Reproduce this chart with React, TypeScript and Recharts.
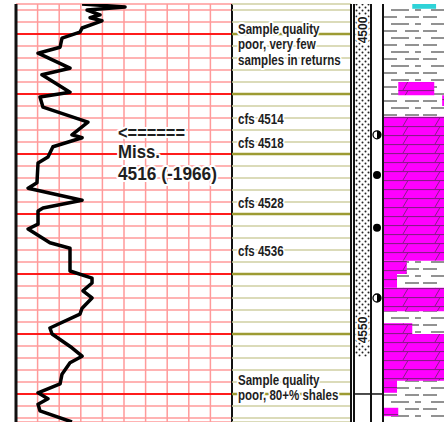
import React from 'react';
import {
  ComposedChart, Line, Scatter, XAxis, YAxis, CartesianGrid, ReferenceLine, ReferenceArea,
} from 'recharts';

const DEPTH_TOP = 4495;
const DEPTH_BASE = 4564.67;

// gamma ray trace (depth ft, API units on a 0-100 scale)
const grDepth = [
  4495.0, 4495.5, 4496.0, 4496.8, 4497.3, 4497.8, 4499.0, 4499.7, 4500.7, 4502.2,
  4503.2, 4505.7, 4506.8, 4509.7, 4510.5, 4512.2, 4514.7, 4516.8, 4517.3, 4518.8,
  4520.5, 4521.5, 4524.8, 4525.7, 4527.7, 4529.0, 4529.5, 4531.7, 4532.5, 4534.8,
  4535.7, 4539.5, 4540.7, 4541.5, 4542.8, 4544.0, 4545.7, 4546.7, 4549.0, 4550.0,
  4552.3, 4553.7, 4554.8, 4556.7, 4558.3, 4559.8, 4560.8, 4561.7, 4562.8, 4564.67,
];
const grValue = [
  30.6, 50.5, 32.9, 38.9, 34.3, 39.8, 30.6, 29.6, 21.3, 20.4,
  10.2, 25.0, 12.0, 25.0, 11.1, 12.5, 33.3, 25.9, 30.6, 17.1,
  14.8, 10.2, 9.7, 5.6, 30.6, 12.5, 10.2, 10.2, 5.6, 15.7,
  25.0, 25.0, 35.2, 35.2, 31.0, 35.2, 30.6, 29.6, 15.7, 16.7,
  25.9, 30.6, 25.0, 21.3, 20.4, 10.2, 14.8, 10.2, 11.1, 25.9,
];

const grTicks = [0, 10, 20, 30, 40, 50, 60, 70, 80, 90, 100];
const gridDepths = Array.from({ length: 35 }, (_, i) => 4496 + i * 2);
const majorDepths = [4500, 4510, 4520, 4530, 4540, 4550, 4560];
const depthLabels = [4500, 4550];

const missDepth = 4516;
const missLines = ['<======', 'Miss.', '4516 (-1966)'];

// remarks column
const noteDepths = [4499, 4514, 4518, 4528, 4536, 4557.5];
const noteTexts = [
  ['Sample quality', 'poor, very few', 'samples in returns'],
  ['cfs 4514'],
  ['cfs 4518'],
  ['cfs 4528'],
  ['cfs 4536'],
  ['Sample quality', 'poor, 80+% shales'],
];

// porosity / sand column
const sandTop = 4495;
const sandBase = 4553.8;
const depthMarker = 4560;

// shows
const showDepths = [4516.8, 4523.5, 4532.3, 4544];
const showKinds = ['half', 'full', 'full', 'half'];

// lithology: percent of track, shale is the background
const limeTop = [4508, 4510.2, 4513.8, 4537.8, 4540, 4542.3, 4548.2, 4550, 4557.8, 4562.3];
const limeBase = [4510.2, 4512, 4537.8, 4540, 4542.3, 4546.2, 4550, 4557.8, 4559.8, 4563.7];
const limeFrom = [25, 97, 0, 0, 0, 0, 0, 0, 0, 0];
const limeTo = [84, 100, 100, 39, 23, 100, 48, 100, 23, 25];
const anhyTop = 4495.0;
const anhyBase = 4495.8;
const anhyFrom = 48;
const anhyTo = 87;

const grData = grDepth.map((d, i) => ({ depth: d, gr: grValue[i] }));
const showData = showDepths.map((d, i) => ({ depth: d, gr: 50, kind: showKinds[i] }));

const H = 422;
const TOP = 4;
const halo = { stroke: '#fff', strokeWidth: 4, paintOrder: 'stroke' as const, strokeLinejoin: 'round' as const };

const depthAxis = (
  <YAxis type="number" dataKey="depth" domain={[DEPTH_TOP, DEPTH_BASE]} ticks={gridDepths}
    hide interval={0} allowDataOverflow />
);
const trackAxis = (
  <XAxis type="number" dataKey="gr" domain={[0, 100]} ticks={grTicks} hide interval={0} allowDataOverflow />
);

function missLabel(props: any) {
  const { x, y } = props.viewBox;
  const left = x + 102;
  const common = { fontSize: 18, fontWeight: 'bold' as const, lengthAdjust: 'spacingAndGlyphs', ...halo };
  return (
    <g fill="#1e1e1e">
      <text x={left} y={y + 9} {...common} textLength={67}>{missLines[0]}</text>
      <text x={left} y={y + 28} {...common} textLength={42}>{missLines[1]}</text>
      <text x={left} y={y + 50} {...common} textLength={99}>{missLines[2]}</text>
    </g>
  );
}

function noteLabel(lines: string[]) {
  return (props: any) => {
    const { x, y } = props.viewBox;
    const left = x + 6;
    return (
      <g fill="#1e1e1e" transform={`translate(${left} 0) scale(0.77 1)`}>
        {lines.map((t, i) => (
          <text key={i} x={0} y={y + 6 + i * 15.5} fontSize={15} fontWeight="bold" {...halo}>{t}</text>
        ))}
      </g>
    );
  };
}

function depthLabel(value: number) {
  return (props: any) => {
    const { x, y, width } = props.viewBox;
    const bx = x + width / 2 + 4.5;
    const by = y - 4;
    return (
      <text x={bx} y={by} transform={`rotate(-90 ${bx} ${by})`} textAnchor="middle"
        fontSize={12} fontWeight="bold" fill="#1a1a1a" {...halo}>{value}</text>
    );
  };
}

function ShowMark(p: any) {
  const { cx, cy, payload } = p;
  const r = 4;
  if (payload.kind === 'full') return <circle cx={cx} cy={cy} r={r} fill="#000" />;
  return (
    <g>
      <circle cx={cx} cy={cy} r={r} fill="#fff" stroke="#000" strokeWidth={1.3} />
      <path d={`M${cx},${cy - r} A${r},${r} 0 0 1 ${cx},${cy + r} Z`} fill="#000" />
    </g>
  );
}

function GrTrack() {
  return (
    <ComposedChart width={236} height={H} layout="vertical" data={grData}
      margin={{ top: TOP, right: 4, bottom: 0, left: 16 }}>
      {trackAxis}
      {depthAxis}
      <CartesianGrid stroke="#ff9a9a" strokeWidth={1.5} />
      {majorDepths.map(d => <ReferenceLine key={d} y={d} stroke="#ff1c1c" strokeWidth={2} />)}
      <ReferenceLine x={0} stroke="#111" strokeWidth={3} />
      <ReferenceLine x={100} stroke="#111" strokeWidth={2} />
      <Line dataKey="gr" stroke="#000" strokeWidth={3.5} dot={false} strokeLinejoin="round"
        isAnimationActive={false} />
      <ReferenceLine y={missDepth} stroke="none" label={missLabel} />
    </ComposedChart>
  );
}

function NotesTrack() {
  return (
    <ComposedChart width={124} height={H} layout="vertical" data={grData}
      margin={{ top: TOP, right: 3, bottom: 0, left: 2 }}>
      {trackAxis}
      {depthAxis}
      <CartesianGrid vertical={false} stroke="#cfcfa2" strokeWidth={1.5} />
      {majorDepths.map(d => <ReferenceLine key={d} y={d} stroke="#9d9b33" strokeWidth={2.5} />)}
      <ReferenceLine x={100} stroke="#111" strokeWidth={2} />
      {noteDepths.map((d, i) => (
        <ReferenceLine key={d} y={d} stroke="none" label={noteLabel(noteTexts[i])} />
      ))}
    </ComposedChart>
  );
}

function DepthTrack() {
  return (
    <ComposedChart width={21} height={H} layout="vertical" data={grData}
      margin={{ top: TOP, right: 2, bottom: 0, left: 2 }}>
      <defs>
        <pattern id="sand" patternUnits="userSpaceOnUse" width={6} height={6}>
          <rect width={6} height={6} fill="#fff" />
          <circle cx={1.5} cy={1.5} r={1} fill="#222" />
          <circle cx={4.5} cy={4.5} r={1} fill="#222" />
        </pattern>
      </defs>
      {trackAxis}
      {depthAxis}
      <ReferenceArea x1={0} x2={100} y1={sandTop} y2={sandBase} fill="url(#sand)" fillOpacity={1} stroke="none" />
      <ReferenceLine y={depthMarker} stroke="#111" strokeWidth={1.5} />
      <ReferenceLine x={0} stroke="#111" strokeWidth={2} />
      <ReferenceLine x={100} stroke="#111" strokeWidth={2} />
      {depthLabels.map(d => <ReferenceLine key={d} y={d} stroke="none" label={depthLabel(d)} />)}
    </ComposedChart>
  );
}

function ShowTrack() {
  return (
    <ComposedChart width={16} height={H} layout="vertical" data={showData}
      margin={{ top: TOP, right: 2, bottom: 0, left: 2 }}>
      {trackAxis}
      {depthAxis}
      <ReferenceLine y={depthMarker} stroke="#111" strokeWidth={1.5} />
      <ReferenceLine x={100} stroke="#111" strokeWidth={2} />
      <Scatter data={showData} dataKey="gr" shape={ShowMark} isAnimationActive={false} />
    </ComposedChart>
  );
}

function LithTrack() {
  return (
    <ComposedChart width={63} height={H} layout="vertical" data={grData}
      margin={{ top: TOP, right: 0, bottom: 0, left: 2 }}>
      <defs>
        <pattern id="shale" patternUnits="userSpaceOnUse" width={40} height={14}>
          <rect width={40} height={14} fill="#fff" />
          <line x1={2} y1={3} x2={16} y2={3} stroke="#6e6e6e" strokeWidth={1.5} />
          <line x1={24} y1={3} x2={38} y2={3} stroke="#6e6e6e" strokeWidth={1.5} />
          <line x1={10} y1={10} x2={28} y2={10} stroke="#6e6e6e" strokeWidth={1.5} />
          <line x1={34} y1={10} x2={40} y2={10} stroke="#6e6e6e" strokeWidth={1.5} />
        </pattern>
        <pattern id="lime" patternUnits="userSpaceOnUse" width={32} height={9}>
          <rect width={32} height={9} fill="#ff00ff" />
          <line x1={0} y1={0.5} x2={32} y2={0.5} stroke="#8a1a8a" strokeWidth={1.2} />
          <line x1={22} y1={9} x2={27} y2={0.5} stroke="#8a1a8a" strokeWidth={1} />
        </pattern>
      </defs>
      {trackAxis}
      {depthAxis}
      <ReferenceArea x1={0} x2={100} y1={DEPTH_TOP} y2={DEPTH_BASE} fill="url(#shale)" fillOpacity={1} stroke="none" />
      <ReferenceArea x1={anhyFrom} x2={anhyTo} y1={anhyTop} y2={anhyBase} fill="#2fd3d8" fillOpacity={1} stroke="none" />
      {limeTop.map((t, i) => (
        <ReferenceArea key={t} x1={limeFrom[i]} x2={limeTo[i]} y1={t} y2={limeBase[i]}
          fill="url(#lime)" fillOpacity={1} stroke="none" />
      ))}
      <ReferenceLine x={0} stroke="#111" strokeWidth={2} />
    </ComposedChart>
  );
}

export default function App() {
  const place = (left: number): React.CSSProperties => ({ position: 'absolute', left, top: 0 });
  return (
    <div style={{
      position: 'absolute', left: 0, top: 0, width: 444, height: H, overflow: 'hidden', background: '#fff',
      fontFamily: "'Liberation Sans', Arial, sans-serif",
    }}>
      <div style={place(0)}><GrTrack /></div>
      <div style={place(230)}><NotesTrack /></div>
      <div style={place(352)}><DepthTrack /></div>
      <div style={place(369)}><ShowTrack /></div>
      <div style={place(381)}><LithTrack /></div>
    </div>
  );
}
